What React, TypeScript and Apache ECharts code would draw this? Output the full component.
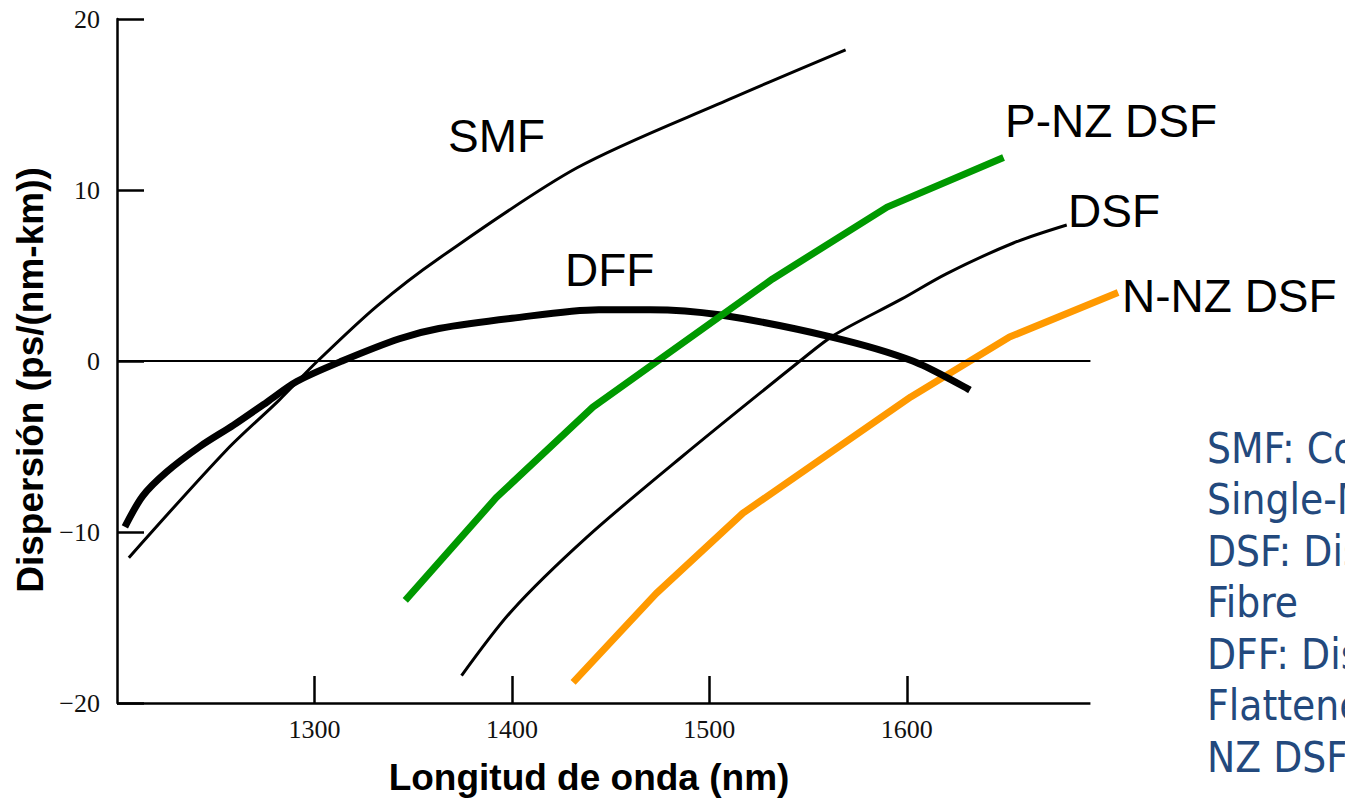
import React, { useEffect, useRef } from "react";
import * as echarts from "echarts";

// ---- Data (wavelength nm, dispersion ps/(nm-km)) ----
const X_TICKS = [1300, 1400, 1500, 1600];
const Y_TICKS = [-20, -10, 0, 10, 20];
const X_AXIS_START = 1200;
const X_AXIS_END = 1693;

const SMF: [number, number][] = [
  [1206, -11.5], [1255.5, -5.2], [1282, -2.3], [1301.6, 0], [1331.5, 3.2],
  [1363, 6.0], [1433, 11.3], [1510, 15.3], [1569, 18.2],
];
const DFF: [number, number][] = [
  [1204, -9.7], [1213, -7.9], [1225, -6.5], [1242, -5.0], [1259, -3.75],
  [1276, -2.4], [1291, -1.2], [1314, 0], [1343, 1.3], [1363, 1.9],
  [1400, 2.5], [1444, 3.0], [1470, 3.0], [1505, 2.7], [1562, 1.4],
  [1603, 0], [1632, -1.7],
];
const DSF: [number, number][] = [
  [1374.5, -18.4], [1400, -14.6], [1438, -10.3], [1485, -5.7], [1547, 0.1],
  [1563, 1.5], [1597, 3.6], [1620, 5.1], [1654, 6.9], [1681, 7.95],
];
const P_NZ_DSF: [number, number][] = [
  [1346, -14.0], [1392, -8.0], [1441, -2.7], [1532, 4.8], [1590, 9.0], [1649, 11.9],
];
const N_NZ_DSF: [number, number][] = [
  [1431, -18.8], [1473, -13.6], [1517, -8.9], [1602, -2.1], [1652, 1.4], [1707, 4.0],
];

const CURVE_LABELS = ["SMF", "DFF", "P-NZ DSF", "DSF", "N-NZ DSF"];
const NOTES = [
  "SMF: Conventional",
  "Single-Mode Fibre",
  "DSF: Dispersion Shifted",
  "Fibre",
  "DFF: Dispersion",
  "Flattened Fibre",
  "NZ DSF: Non-Zero DSF",
];

const SANS = "Arial, 'Liberation Sans', sans-serif";
const SERIF = "'Times New Roman', 'Liberation Serif', serif";
const NOTE_FONT = "'DejaVu Sans Condensed', Tahoma, 'DejaVu Sans', sans-serif";

export default function App() {
  const ref = useRef<HTMLDivElement>(null);

  useEffect(() => {
    if (!ref.current) return;
    const chart = echarts.init(ref.current, undefined, { renderer: "svg" });

    const labelPos: Record<string, [number, number]> = {
      "SMF": [448, 136],
      "DFF": [565, 270],
      "P-NZ DSF": [1005, 121],
      "DSF": [1068, 211],
      "N-NZ DSF": [1122, 296],
    };

    const graphics: any[] = [
      {
        type: "text",
        x: 30,
        y: 380,
        rotation: Math.PI / 2,
        style: {
          text: "Dispersión (ps/(nm-km))",
          font: `bold 37px ${SANS}`,
          fill: "#000",
          align: "center",
          verticalAlign: "middle",
        },
      },
      {
        type: "text",
        x: 589,
        y: 777,
        style: {
          text: "Longitud de onda (nm)",
          font: `bold 37px ${SANS}`,
          fill: "#000",
          align: "center",
          verticalAlign: "middle",
        },
      },
      ...CURVE_LABELS.map((t) => ({
        type: "text",
        x: labelPos[t][0],
        y: labelPos[t][1],
        style: {
          text: t,
          font: `46px ${SANS}`,
          fill: "#000",
          align: "left",
          verticalAlign: "middle",
        },
      })),
      ...NOTES.map((t, i) => ({
        type: "text",
        x: 1207,
        y: 448 + i * 51.5,
        style: {
          text: t,
          font: `42px ${NOTE_FONT}`,
          fill: "#23497D",
          align: "left",
          verticalAlign: "middle",
        },
      })),
    ];

    const lineSeries = (
      name: string,
      data: [number, number][],
      color: string,
      width: number,
      smooth: boolean,
      extra: any = {}
    ) => ({
      name,
      type: "line",
      data,
      showSymbol: false,
      symbol: "none",
      smooth: smooth ? 0.3 : false,
      clip: false,
      silent: true,
      lineStyle: { color, width, cap: "butt", join: "round" },
      ...extra,
    });

    const hLine = (y: number, width: number) => [
      { coord: [X_AXIS_START, y], lineStyle: { color: "#000", width, type: "solid" } },
      { coord: [X_AXIS_END, y] },
    ];

    chart.setOption({
      animation: false,
      backgroundColor: "#ffffff",
      grid: {
        left: 117,
        right: 221,
        top: 19,
        bottom: 804 - 703,
        containLabel: false,
        outerBoundsMode: "none",
      },
      xAxis: {
        type: "value",
        min: 1200,
        max: 1710,
        interval: 100,
        axisLine: { show: false, onZero: false },
        axisTick: {
          show: true,
          inside: true,
          length: 27,
          customValues: X_TICKS,
          lineStyle: { color: "#000", width: 2.5 },
        },
        axisLabel: {
          show: true,
          customValues: X_TICKS,
          margin: 13,
          fontFamily: SERIF,
          fontSize: 26,
          color: "#111",
          formatter: (v: number) => String(v),
        },
        splitLine: { show: false },
      },
      yAxis: {
        type: "value",
        min: -20,
        max: 20,
        interval: 10,
        axisLine: { show: true, onZero: false, lineStyle: { color: "#000", width: 2.5 } },
        axisTick: {
          show: true,
          inside: true,
          length: 27,
          customValues: Y_TICKS,
          lineStyle: { color: "#000", width: 2.5 },
        },
        axisLabel: {
          show: true,
          customValues: Y_TICKS,
          margin: 17,
          fontFamily: SERIF,
          fontSize: 26,
          color: "#111",
          formatter: (v: number) => (v < 0 ? "\u2212" + Math.abs(v) : String(v)),
        },
        splitLine: { show: false },
      },
      series: [
        lineSeries("N-NZ DSF", N_NZ_DSF, "#FF9900", 7, false),
        lineSeries("SMF", SMF, "#000000", 3, true, {
          markLine: {
            silent: true,
            symbol: ["none", "none"],
            label: { show: false },
            lineStyle: { color: "#000", width: 2, type: "solid" },
            data: [hLine(0, 2), hLine(-20, 2.5)],
          },
        }),
        lineSeries("DFF", DFF, "#000000", 7, true),
        lineSeries("DSF", DSF, "#000000", 3, true),
        lineSeries("P-NZ DSF", P_NZ_DSF, "#009900", 7, false),
      ],
      graphic: graphics,
    });

    return () => chart.dispose();
  }, []);

  return (
    <div
      ref={ref}
      style={{ position: "fixed", left: 0, top: 0, width: 1345, height: 804, background: "#fff" }}
    />
  );
}
